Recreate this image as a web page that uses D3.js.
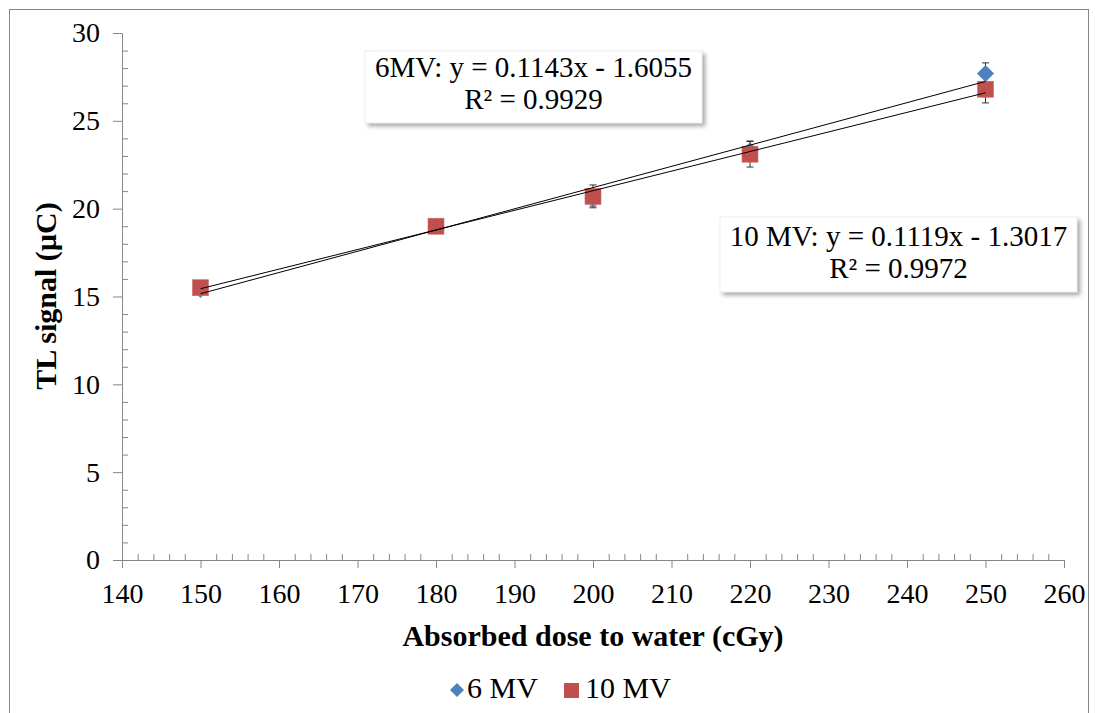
<!DOCTYPE html>
<html>
<head>
<meta charset="utf-8">
<script src="https://cdn.jsdelivr.net/npm/d3@7"></script>
<style>
  body { margin: 0; background: #fff; }
  svg { display: block; }
  svg text { font-family: "Liberation Serif", "Times New Roman", serif; }
</style>
</head>
<body>
<svg id="chart" width="1095" height="713"></svg>
<script>
// doses (cGy) and TL signal
var doses = [150, 180, 200, 220, 250];
var tl6 = [15.4, 19.0, 20.6, 23.3, 27.7];
var err6 = [0.3, 0.3, 0.45, 0.55, 0.6];
var tl10 = [15.5, 19.0, 20.7, 23.1, 26.8];
var err10 = [0.3, 0.3, 0.65, 0.73, 0.78];

var seriesNames = ["6 MV", "10 MV"];
var xTicks = [140, 150, 160, 170, 180, 190, 200, 210, 220, 230, 240, 250, 260];
var yTicks = [0, 5, 10, 15, 20, 25, 30];
var eq6 = ["6MV: y = 0.1143x - 1.6055", "R\u00b2 = 0.9929"];
var eq10 = ["10 MV: y = 0.1119x - 1.3017", "R\u00b2 = 0.9972"];

var svg = d3.select("#chart");
var axisColor = "#868686";
var blue = "#4F81BD", red = "#C0504D";

var x = d3.scaleLinear().domain([140, 260]).range([122, 1064]);
var y = d3.scaleLinear().domain([0, 30]).range([560, 33]);

// shadow for the equation boxes
var defs = svg.append("defs");
defs.append("filter").attr("id", "shadow")
    .attr("x", "-10%").attr("y", "-20%").attr("width", "130%").attr("height", "150%")
  .append("feDropShadow")
    .attr("dx", 3).attr("dy", 3).attr("stdDeviation", 2)
    .attr("flood-color", "#000").attr("flood-opacity", 0.35);

// outer chart frame
svg.append("rect")
    .attr("x", 9.5).attr("y", 9.5).attr("width", 1079).attr("height", 720)
    .attr("fill", "none").attr("stroke", axisColor).attr("stroke-width", 1);

// minor ticks
var yMinor = d3.range(0, 31).filter(function(v) { return v % 5 !== 0; });
var xMinor = d3.range(140, 261, 2).filter(function(v) { return v % 10 !== 0; });

var gyMinor = svg.append("g").attr("transform", "translate(122,0)")
    .call(d3.axisRight(y).tickValues(yMinor).tickSize(6).tickFormat(""));
var gxMinor = svg.append("g").attr("transform", "translate(0,560)")
    .call(d3.axisTop(x).tickValues(xMinor).tickSize(6).tickFormat(""));
[gyMinor, gxMinor].forEach(function(g) {
	g.select(".domain").remove();
	g.selectAll("line").attr("stroke", axisColor);
});

// major axes
var gy = svg.append("g").attr("transform", "translate(122,0)")
    .call(d3.axisLeft(y).tickValues(yTicks).tickSize(9).tickSizeOuter(0).tickPadding(13));
var gx = svg.append("g").attr("transform", "translate(0,560)")
    .call(d3.axisBottom(x).tickValues(xTicks).tickSize(8).tickSizeOuter(0).tickPadding(15));
[gy, gx].forEach(function(g) {
	g.attr("font-family", null).attr("font-size", null);
	g.select(".domain").attr("stroke", axisColor);
	g.selectAll("line").attr("stroke", axisColor);
	g.selectAll("text").style("font-size", "28px").attr("fill", "#000");
});

// axis titles
svg.append("text")
    .attr("x", 593).attr("y", 646).attr("text-anchor", "middle")
    .style("font-size", "30px").attr("font-weight", "bold")
    .text("Absorbed dose to water (cGy)");
svg.append("text")
    .attr("transform", "translate(56,296) rotate(-90)").attr("text-anchor", "middle")
    .style("font-size", "30px").attr("font-weight", "bold")
    .text("TL signal (\u00b5C)");

// error bars (drawn under markers)
function errorBars(vals, errs) {
	var g = svg.append("g").attr("stroke", "#333").attr("stroke-width", 1);
	doses.forEach(function(d, i) {
		var cx = x(d), top = y(vals[i] + errs[i]), bot = y(vals[i] - errs[i]);
		g.append("line").attr("x1", cx).attr("x2", cx).attr("y1", top).attr("y2", bot);
		g.append("line").attr("x1", cx - 3.5).attr("x2", cx + 3.5).attr("y1", top).attr("y2", top);
		g.append("line").attr("x1", cx - 3.5).attr("x2", cx + 3.5).attr("y1", bot).attr("y2", bot);
	});
}
errorBars(tl6, err6);
errorBars(tl10, err10);

function diamond(s) {
	return "M0," + (-s) + "L" + s + ",0L0," + s + "L" + (-s) + ",0Z";
}

svg.append("g").selectAll("path").data(doses).join("path")
    .attr("transform", function(d, i) { return "translate(" + x(d) + "," + y(tl6[i]) + ")"; })
    .attr("d", diamond(8.5))
    .attr("fill", blue);

svg.append("g").selectAll("rect").data(doses).join("rect")
    .attr("x", function(d) { return x(d) - 8; })
    .attr("y", function(d, i) { return y(tl10[i]) - 8; })
    .attr("width", 16).attr("height", 16)
    .attr("fill", red).attr("stroke", "#CD6B68").attr("stroke-width", 0.6);

// linear trendlines (least squares over the points)
function fit(xs, ys) {
	var mx = d3.mean(xs), my = d3.mean(ys);
	var sxy = d3.sum(xs, function(v, i) { return (v - mx) * (ys[i] - my); });
	var sxx = d3.sum(xs, function(v) { return (v - mx) * (v - mx); });
	var b = sxy / sxx;
	return { slope: b, icpt: my - b * mx };
}
[tl6, tl10].forEach(function(vals) {
	var f = fit(doses, vals);
	var x0 = d3.min(doses), x1 = d3.max(doses);
	svg.append("line")
	    .attr("x1", x(x0)).attr("y1", y(f.slope * x0 + f.icpt))
	    .attr("x2", x(x1)).attr("y2", y(f.slope * x1 + f.icpt))
	    .attr("stroke", "#000").attr("stroke-width", 1);
});

// equation labels
function eqBox(lines, bx, by, bw, bh, base1, base2) {
	svg.append("rect").attr("x", bx).attr("y", by).attr("width", bw).attr("height", bh)
	    .attr("fill", "#fff").attr("stroke", "#d9d9d9").attr("stroke-width", 0.5)
	    .attr("filter", "url(#shadow)");
	[base1, base2].forEach(function(b, i) {
		svg.append("text").attr("x", bx + bw / 2).attr("y", b)
		    .attr("text-anchor", "middle").style("font-size", "29px")
		    .text(lines[i]);
	});
}
eqBox(eq6, 365, 51, 337, 72, 77, 109);
eqBox(eq10, 720, 217, 357, 75, 246, 278);

// legend
var lg = svg.append("g");
lg.append("path").attr("transform", "translate(457,690)").attr("d", diamond(7)).attr("fill", blue);
lg.append("text").attr("x", 467).attr("y", 698).style("font-size", "30px").text(seriesNames[0]);
lg.append("rect").attr("x", 564).attr("y", 683).attr("width", 15).attr("height", 15).attr("fill", red);
lg.append("text").attr("x", 585).attr("y", 698).style("font-size", "30px").text(seriesNames[1]);
</script>
</body>
</html>
